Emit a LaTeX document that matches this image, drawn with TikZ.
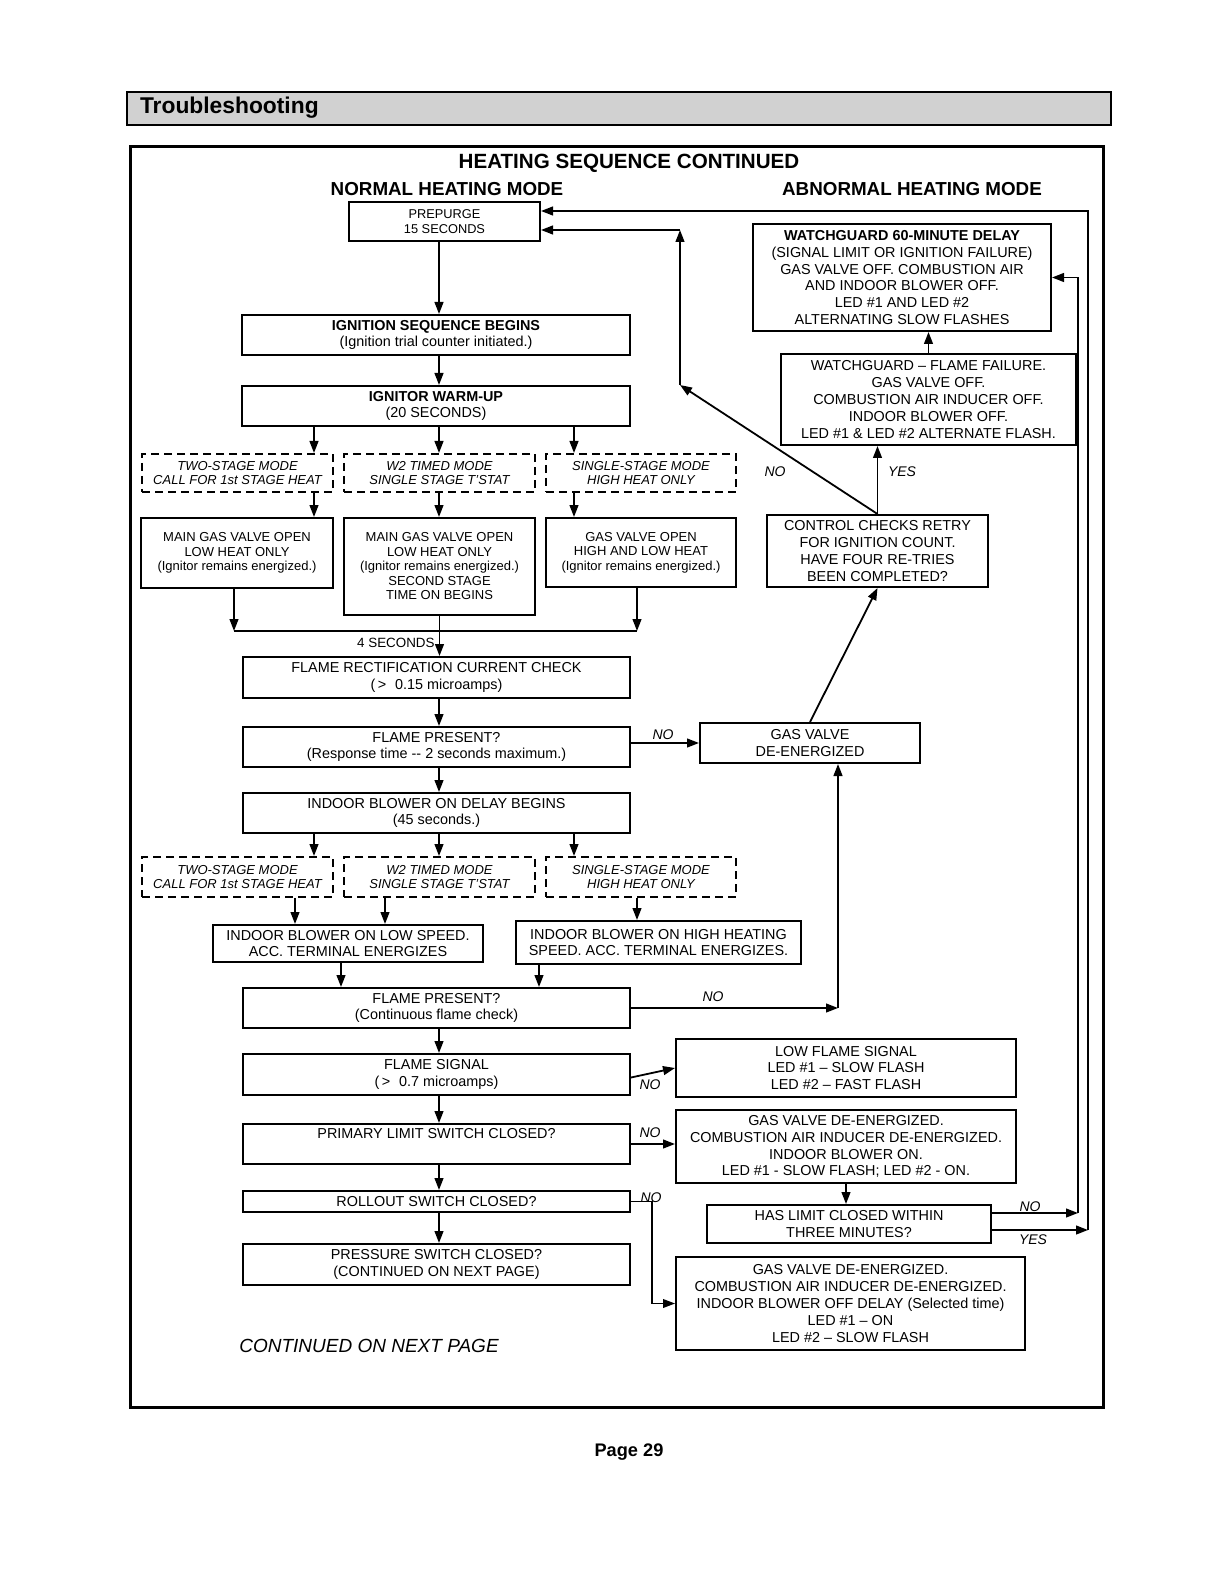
\documentclass[tikz,border=0pt]{standalone}
\usepackage{fontspec}
\setmainfont{Liberation Sans}
\usetikzlibrary{arrows.meta, calc}

\newcommand{\fs}[2]{\fontsize{#1}{#2}\selectfont}

\tikzset{
  box/.style={draw, line width=1pt, inner sep=0pt, align=center, font=\fs{7.2}{8.4}},
  modebox/.style={box, dash pattern=on 4pt off 2.5pt, font=\fs{6.5}{7}\itshape},
  valvebox/.style={box, font=\fs{6.5}{7.25}},
  boxsize/.style 2 args={minimum width=#1*0.5pt, minimum height=#2*0.5pt},
  arr/.style={->, line width=0.9pt},
  lbl/.style={font=\fs{7}{8}\itshape, inner sep=1pt},
}

\begin{document}
\begin{tikzpicture}[>={Triangle[length=6pt, width=4.4pt]}, x=0.5pt, y=-0.5pt]
\useasboundingbox (0,0) rectangle (1210,1572);

% Header bar
\draw[fill=black!18, line width=1pt] (127,92) rectangle (1111,125);
\node[font=\fs{11.4}{13}\bfseries, anchor=west] (header) at (133,108) {Troubleshooting};

% Frame
\draw[line width=1.5pt] (130,147) rectangle (1103,1407);

% Titles
\node[font=\fs{10.3}{12}\bfseries] (title) at (629,163) {HEATING SEQUENCE CONTINUED};
\node[font=\fs{9.4}{11}\bfseries] (normal) at (447,189) {NORMAL HEATING MODE};
\node[font=\fs{9.4}{11}\bfseries] (abnormal) at (912,189) {ABNORMAL HEATING MODE};

% Columns
\coordinate (colA) at (314,0);
\coordinate (mainx) at (439,0);
\coordinate (colC) at (574,0);
\coordinate (lowL) at (295,0);
\coordinate (lowR) at (385,0);
\coordinate (highx) at (637,0);
\coordinate (joinL) at (341,0);
\coordinate (joinR) at (539,0);
\coordinate (gx) at (838,0);
\coordinate (rx) at (652,0);
\coordinate (railA) at (1078,0);
\coordinate (railB) at (1088,0);

% Normal heating mode
\node[box, boxsize={191}{39}, font=\fs{6.4}{7.5}] (prepurge) at (444.5,221.5) {PREPURGE\\15 SECONDS};
\node[box, boxsize={388}{40}] (ignition) at (436,335) {\textbf{IGNITION SEQUENCE BEGINS}\\(Ignition trial counter initiated.)};
\node[box, boxsize={388}{40}] (warmup) at (436,406) {\textbf{IGNITOR WARM-UP}\\(20 SECONDS)};

\node[modebox, boxsize={191}{38}] (modeA) at (237.5,473) {TWO-STAGE MODE\\CALL FOR 1st STAGE HEAT};
\node[modebox, boxsize={191}{38}] (modeB) at (439.5,473) {W2 TIMED MODE\\SINGLE STAGE T'STAT};
\node[modebox, boxsize={190}{38}] (modeC) at (641,473) {SINGLE-STAGE MODE\\HIGH HEAT ONLY};

\node[valvebox, boxsize={192}{70}] (valveA) at (237,553) {MAIN GAS VALVE OPEN\\LOW HEAT ONLY\\(Ignitor remains energized.)};
\node[valvebox, boxsize={191}{97}] (valveB) at (439.5,566.5) {MAIN GAS VALVE OPEN\\LOW HEAT ONLY\\(Ignitor remains energized.)\\SECOND STAGE\\TIME ON BEGINS};
\node[valvebox, boxsize={190}{69}] (valveC) at (641,552.5) {GAS VALVE OPEN\\HIGH AND LOW HEAT\\(Ignitor remains energized.)};

\node[font=\fs{6.7}{8}, anchor=east, inner sep=1pt] (foursec) at (437,643) {4 SECONDS};

\node[box, boxsize={387}{41}] (rectif) at (436.5,677.5) {FLAME RECTIFICATION CURRENT CHECK\\(\,>\,\, 0.15 microamps)};
\node[box, boxsize={387}{40}] (present1) at (436.5,747) {FLAME PRESENT?\\(Response time -{}- 2 seconds maximum.)};
\node[box, boxsize={387}{40}] (blowerdelay) at (436.5,813) {INDOOR BLOWER ON DELAY BEGINS\\(45 seconds.)};

\node[modebox, boxsize={191}{40}] (modeD) at (237.5,877) {TWO-STAGE MODE\\CALL FOR 1st STAGE HEAT};
\node[modebox, boxsize={191}{40}] (modeE) at (439.5,877) {W2 TIMED MODE\\SINGLE STAGE T'STAT};
\node[modebox, boxsize={190}{40}] (modeF) at (641,877) {SINGLE-STAGE MODE\\HIGH HEAT ONLY};

\node[box, boxsize={270}{37}] (lowspeed) at (348,943.5) {INDOOR BLOWER ON LOW SPEED.\\ACC. TERMINAL ENERGIZES};
\node[box, boxsize={285}{43}] (highspeed) at (658.5,942.5) {INDOOR BLOWER ON HIGH HEATING\\SPEED. ACC. TERMINAL ENERGIZES.};

\node[box, boxsize={387}{40}] (present2) at (436.5,1008) {FLAME PRESENT?\\(Continuous flame check)};
\node[box, boxsize={387}{41}] (signal) at (436.5,1074.5) {FLAME SIGNAL\\(\,>\,\, 0.7 microamps)};
\node[box, boxsize={387}{40}] (primary) at (436.5,1144) {PRIMARY LIMIT SWITCH CLOSED?\\\strut};
\node[box, boxsize={387}{21}] (rollout) at (436.5,1201.5) {ROLLOUT SWITCH CLOSED?};
\node[box, boxsize={387}{41}] (pressure) at (436.5,1264.5) {PRESSURE SWITCH CLOSED?\\(CONTINUED ON NEXT PAGE)};

\node[font=\fs{9.5}{11}\itshape] (contd) at (369,1346) {CONTINUED ON NEXT PAGE};

% Abnormal heating mode
\node[box, boxsize={298}{107}] (delay60) at (902,277.5) {\textbf{WATCHGUARD 60-MINUTE DELAY}\\(SIGNAL LIMIT OR IGNITION FAILURE)\\GAS VALVE OFF. COMBUSTION AIR\\AND INDOOR BLOWER OFF.\\LED \#1 AND LED \#2\\ALTERNATING SLOW FLASHES};
\node[box, boxsize={295}{91}] (flamefail) at (928.5,399.5) {WATCHGUARD -- FLAME FAILURE.\\GAS VALVE OFF.\\COMBUSTION AIR INDUCER OFF.\\INDOOR BLOWER OFF.\\LED \#1 \& LED \#2 ALTERNATE FLASH.};
\node[box, boxsize={221}{72}] (retry) at (877.5,551) {CONTROL CHECKS RETRY\\FOR IGNITION COUNT.\\HAVE FOUR RE-TRIES\\BEEN COMPLETED?};
\node[box, boxsize={220}{40}] (gasoff) at (810,743) {GAS VALVE\\DE-ENERGIZED};

\node[box, boxsize={340}{58}] (lowflame) at (846,1068) {LOW FLAME SIGNAL\\LED \#1 -- SLOW FLASH\\LED \#2 -- FAST FLASH};
\node[box, boxsize={340}{73}] (limitoff) at (846,1146.5) {GAS VALVE DE-ENERGIZED.\\COMBUSTION AIR INDUCER DE-ENERGIZED.\\INDOOR BLOWER ON.\\LED \#1 - SLOW FLASH; LED \#2 - ON.};
\node[box, boxsize={284}{38}] (threemin) at (849,1224) {HAS LIMIT CLOSED WITHIN\\THREE MINUTES?};
\node[box, boxsize={349}{93}] (offdelay) at (850.5,1303.5) {GAS VALVE DE-ENERGIZED.\\COMBUSTION AIR INDUCER DE-ENERGIZED.\\INDOOR BLOWER OFF DELAY (Selected time)\\LED \#1 -- ON\\LED \#2 -- SLOW FLASH};

% Labels
\node[lbl] (no1) at (663,735) {NO};
\node[lbl] (no2) at (775,472) {NO};
\node[lbl] (yes1) at (902,472) {YES};
\node[lbl] (no3) at (713,997) {NO};
\node[lbl] (no4) at (650,1085) {NO};
\node[lbl] (no5) at (650,1133) {NO};
\node[lbl] (no6) at (651,1198) {NO};
\node[lbl] (no7) at (1030,1207) {NO};
\node[lbl] (yes2) at (1033,1240) {YES};

% Page number
\node[font=\fs{9.1}{11}\bfseries] (page) at (629,1452) {Page 29};

% Main column arrows
\foreach \a/\b in {prepurge/ignition, ignition/warmup, rectif/present1, present1/blowerdelay,
                   present2/signal, signal/primary, primary/rollout, rollout/pressure}
  \draw[arr] (\a.south -| mainx) -- (\b.north -| mainx);

\foreach \c/\m/\v in {colA/modeA/valveA, mainx/modeB/valveB, colC/modeC/valveC} {
  \draw[arr] (warmup.south -| \c) -- (\m.north -| \c);
  \draw[arr] (\m.south -| \c) -- (\v.north -| \c);
}

% Joining the three valve boxes
\coordinate (dropL) at (234,631);
\coordinate (dropR) at (637,631);
\draw[arr] (valveA.south -| dropL) -- (dropL);
\draw[arr] (valveC.south -| dropR) -- (dropR);
\draw[line width=0.9pt] (dropL) -- (dropR);
\draw[arr] (valveB.south) -- (valveB.south |- rectif.north);

\foreach \c/\m in {colA/modeD, mainx/modeE, colC/modeF}
  \draw[arr] (blowerdelay.south -| \c) -- (\m.north -| \c);
\draw[arr] (modeD.south -| lowL) -- (lowspeed.north -| lowL);
\draw[arr] (modeE.south -| lowR) -- (lowspeed.north -| lowR);
\draw[arr] (modeF.south -| highx) -- (highspeed.north -| highx);
\draw[arr] (lowspeed.south -| joinL) -- (present2.north -| joinL);
\draw[arr] (highspeed.south -| joinR) -- (present2.north -| joinR);

% Abnormal branches
\draw[arr] (present1.east |- gasoff) -- (gasoff.west);
\draw[arr] (gasoff.north) -- (retry.south);
\draw[arr] (retry.north) -- (retry.north |- flamefail.south);
\draw[arr] (flamefail.north) -- (flamefail.north |- delay60.south);

\coordinate (pretop) at ($(prepurge.east)+(0,-10.5)$);
\coordinate (prebot) at ($(prepurge.east)+(0,8.5)$);
\coordinate (bend) at (680,385);
\draw[arr] (retry.north) -- (bend);
\draw[arr] (bend) -- (bend |- prebot);
\draw[arr] (bend |- prebot) -- (prebot);

\draw[arr] (present2.east) -- (present2.east -| gx);
\draw[arr] (present2.east -| gx) -- (gasoff.south -| gx);

\draw[arr] ($(signal.east)+(0,3)$) -- (lowflame.west);
\draw[arr] (primary.east) -- (primary.east -| limitoff.west);
\draw[arr, line width=0.6pt] (rollout.east) -| (rx |- offdelay.west) -- (offdelay.west);
\draw[arr] (limitoff.south) -- (limitoff.south |- threemin.north);

% Return rails
\coordinate (noout) at ($(threemin.east)+(0,-11)$);
\coordinate (yesout) at ($(threemin.east)+(0,6)$);
\draw[arr] (noout) -- (noout -| railA);
\draw[arr] (noout -| railA) -- (delay60.east -| railA) -- (delay60.east);
\draw[arr] (yesout) -- (yesout -| railB);
\draw[arr] (yesout -| railB) -- (pretop -| railB) -- (pretop);

\end{tikzpicture}
\end{document}
